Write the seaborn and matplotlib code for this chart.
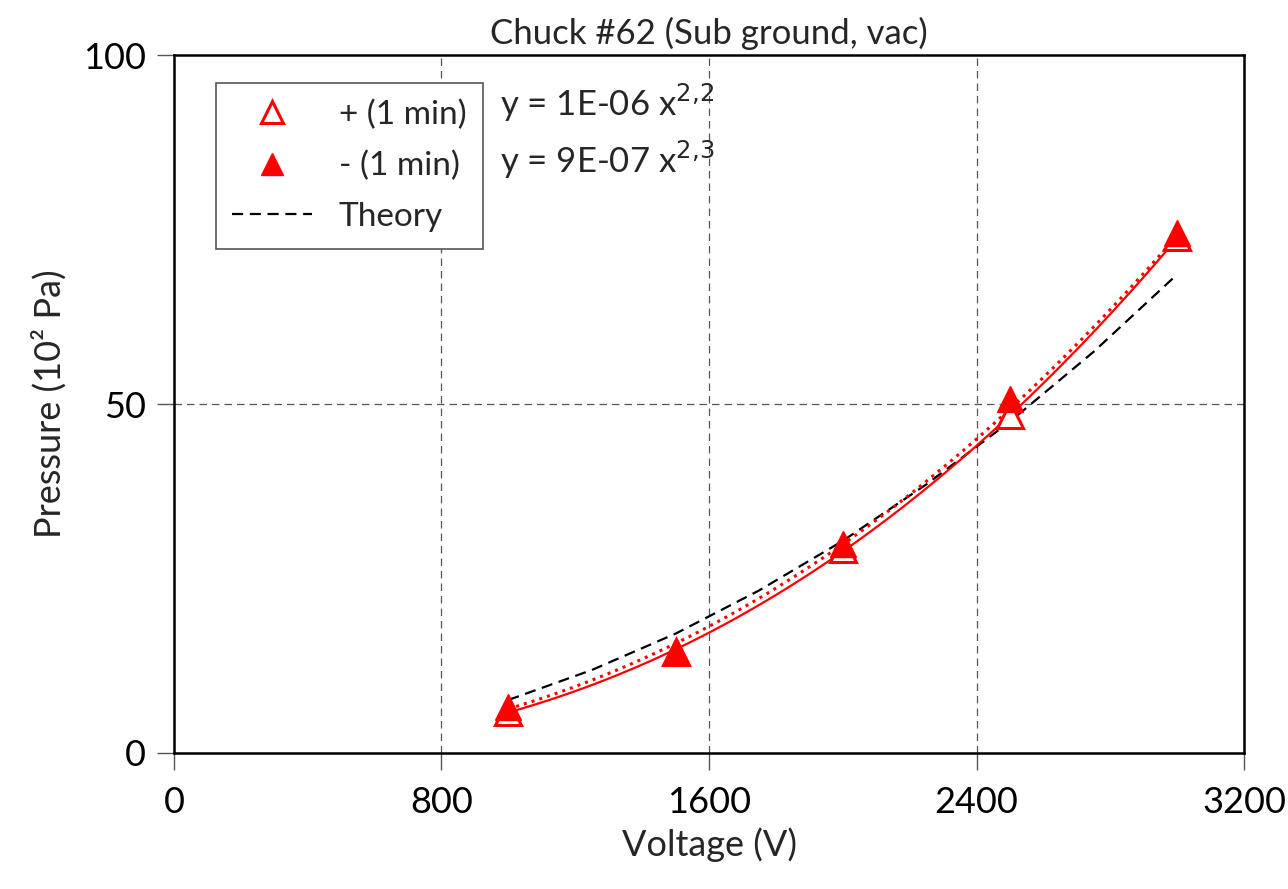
import numpy as np
import pandas as pd
import seaborn as sns
import matplotlib.pyplot as plt

# measured points (voltage in V, pressure in 10^2 Pa)
voltage = [1000, 1500, 2000, 2500, 3000]
p_plus = [5.9, 14.4, 29.3, 48.4, 74.0]
p_minus = [6.6, 14.6, 29.9, 50.7, 74.5]

# theory curve
theory_v = [1000, 1250, 1500, 1750, 2000, 2250, 2500, 2750, 3000]
theory_p = [7.6, 11.9, 17.1, 23.3, 30.4, 38.5, 47.5, 57.5, 68.6]

sns.set_theme(style="white")
plt.rcParams['font.family'] = ['Lato', 'DejaVu Sans']

# power-law trendlines fitted to each series
def power_fit(x, y):
    b, a = np.polyfit(np.log(x), np.log(y), 1)
    xs = np.linspace(min(x), max(x), 100)
    return xs, np.exp(a) * xs ** b

xs_p, fit_p = power_fit(voltage, p_plus)
xs_m, fit_m = power_fit(voltage, p_minus)

df_theory = pd.DataFrame({"Voltage": theory_v, "Pressure": theory_p})

fig, ax = plt.subplots(figsize=(12.88, 8.89), dpi=100)
fig.subplots_adjust(left=0.135, right=0.966, top=0.938, bottom=0.153)

sns.lineplot(data=df_theory, x="Voltage", y="Pressure", ax=ax, color="black",
             linestyle=(0, (5, 3)), linewidth=1.6, label="Theory", zorder=2)
sns.lineplot(x=xs_p, y=fit_p, ax=ax, color="red", linewidth=1.6, zorder=3, legend=False)
sns.lineplot(x=xs_m, y=fit_m, ax=ax, color="red", linewidth=2.2, linestyle=":", zorder=3, legend=False)

ax.plot(voltage, p_plus, linestyle="none", marker="^", markersize=19,
        markerfacecolor="white", markeredgecolor="red", markeredgewidth=2.2,
        label="+ (1 min)", zorder=4)
ax.plot(voltage, p_minus, linestyle="none", marker="^", markersize=19,
        markerfacecolor="red", markeredgecolor="red", label="- (1 min)", zorder=5)

ax.set_xlim(0, 3200)
ax.set_ylim(0, 100)
ax.set_xticks([0, 800, 1600, 2400, 3200])
ax.set_yticks([0, 50, 100])
for v in [800, 1600, 2400]:
    ax.axvline(v, color="#555555", linestyle=(0, (6, 4)), linewidth=0.9, zorder=1)
ax.axhline(50, color="#555555", linestyle=(0, (6, 4)), linewidth=0.9, zorder=1)

for s in ax.spines.values():
    s.set_color("black")
    s.set_linewidth(1.8)
ax.tick_params(axis="both", direction="out", length=12, width=1, color="#555555",
               labelsize=26, labelcolor="black", left=True, bottom=True)
ax.tick_params(axis="x", pad=12)
ax.tick_params(axis="y", pad=8)

ax.set_xlabel("Voltage (V)", fontsize=26, labelpad=6)
ax.set_ylabel("Pressure (10² Pa)", fontsize=26, labelpad=12)
ax.set_title("Chuck #62 (Sub ground, vac)", fontsize=25, pad=8)

handles, labels = ax.get_legend_handles_labels()
order = [labels.index("+ (1 min)"), labels.index("- (1 min)"), labels.index("Theory")]
leg = ax.legend([handles[i] for i in order], [labels[i] for i in order],
                loc="upper left", bbox_to_anchor=(0.039, 0.96), borderaxespad=0,
                fontsize=24, frameon=True, fancybox=False, framealpha=1,
                edgecolor="#555555", borderpad=0.5, labelspacing=0.62,
                handlelength=2.4, handletextpad=0.8, markerscale=0.85)
leg.get_frame().set_linewidth(1.2)

ax.text(0.305, 0.931, r"y = 1E-06 x$^{2{,}2}$", transform=ax.transAxes, fontsize=25, va="center")
ax.text(0.305, 0.85, r"y = 9E-07 x$^{2{,}3}$", transform=ax.transAxes, fontsize=25, va="center")

plt.savefig("out.png", dpi=100)
